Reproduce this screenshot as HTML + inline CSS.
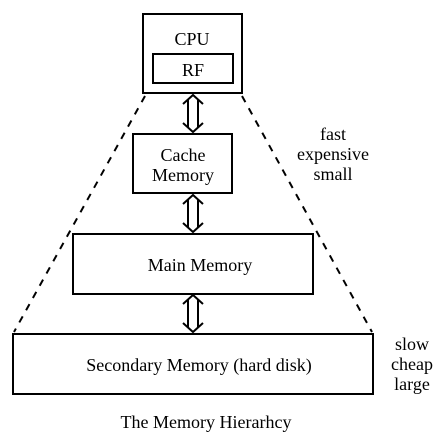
<!DOCTYPE html>
<html><head><style>
html,body{margin:0;padding:0;background:#fff;}
svg text{font-family:"Liberation Serif",serif;font-size:18px;fill:#000;}
</style></head><body>
<svg width="447" height="441" viewBox="0 0 447 441" xmlns="http://www.w3.org/2000/svg">
<g fill="none" stroke="#000" stroke-width="2" stroke-dasharray="7,7">
<line x1="145" y1="96" x2="14" y2="332"/>
<line x1="242" y1="96" x2="372" y2="332"/>
</g>
<g fill="#fff" stroke="#000" stroke-width="2">
<rect x="143" y="14" width="99" height="79"/>
<rect x="153" y="54" width="80" height="29"/>
<rect x="133" y="134" width="99" height="59"/>
<rect x="73" y="234" width="240" height="60"/>
<rect x="13" y="334" width="360" height="60"/>
</g>
<g fill="none" stroke="#000" stroke-width="2">
<path d="M183,104 L193,95 L203,104 M183,123 L193,132 L203,123 M188,99 V128 M198,99 V128"/>
<path d="M183,204 L193,195 L203,204 M183,223 L193,232 L203,223 M188,199 V228 M198,199 V228"/>
<path d="M183,304 L193,295 L203,304 M183,323 L193,332 L203,323 M188,299 V328 M198,299 V328"/>
</g>
<text x="192" y="45" text-anchor="middle">CPU</text>
<text x="193" y="76" text-anchor="middle">RF</text>
<text x="183" y="161" text-anchor="middle">Cache</text>
<text x="183" y="181" text-anchor="middle">Memory</text>
<text x="200" y="271" text-anchor="middle">Main Memory</text>
<text x="199" y="371" text-anchor="middle">Secondary Memory (hard disk)</text>
<text x="333" y="140" text-anchor="middle">fast</text>
<text x="333" y="160" text-anchor="middle">expensive</text>
<text x="333" y="180" text-anchor="middle">small</text>
<text x="412" y="350" text-anchor="middle">slow</text>
<text x="412" y="370" text-anchor="middle">cheap</text>
<text x="412" y="390" text-anchor="middle">large</text>
<text x="206" y="428" text-anchor="middle">The Memory Hierarhcy</text>
</svg>
</body></html>
